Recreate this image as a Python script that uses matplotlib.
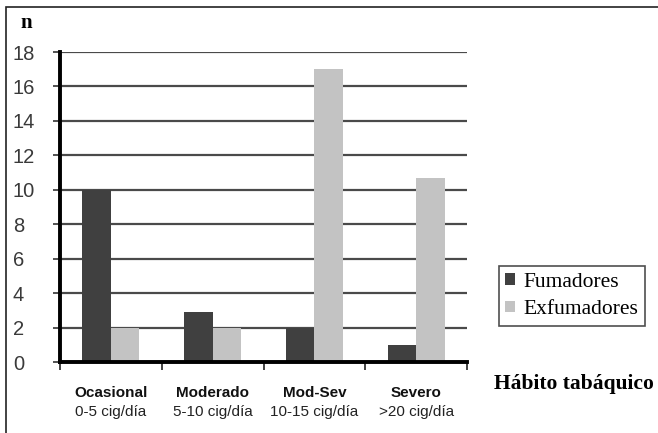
import numpy as np
import matplotlib.pyplot as plt
from matplotlib.patches import Rectangle

## Data

grupos = ['Ocasional', 'Moderado', 'Mod-Sev', 'Severo']
dosis = ['0-5 cig/día', '5-10 cig/día', '10-15 cig/día', '>20 cig/día']
fumadores = [10, 2.9, 2, 1]
exfumadores = [2, 2, 17, 10.7]

## Figure

fig = plt.figure(figsize=(6.58, 4.33), dpi=100)
fig.patches.append(Rectangle((6/658, -0.1), 2, 1.1 - 7/433, transform=fig.transFigure,
                             fill=False, edgecolor='#222222', lw=1.2))

ax = fig.add_axes([60/658, 1 - 362/433, 407/658, 310/433])

x = np.arange(len(grupos))
w = 0.28
ax.bar(x - w/2, fumadores, w, color='#404040', label='Fumadores', zorder=3)
ax.bar(x + w/2, exfumadores, w, color='#c3c3c3', label='Exfumadores', zorder=3)

ax.set_xlim(-0.5, len(grupos) - 0.5)
ax.set_ylim(0, 18)
ax.set_yticks(range(0, 19, 2))
ax.yaxis.grid(True, color='#4a4a4a', lw=1.6, zorder=1)
ax.set_axisbelow(True)

for s in ['top', 'right']:
    ax.spines[s].set_visible(False)
for s in ['left', 'bottom']:
    ax.spines[s].set_linewidth(2.8)
    ax.spines[s].set_color('black')
    ax.spines[s].set_zorder(4)

ax.tick_params(axis='y', direction='out', length=5, width=1.2, color='#333333',
               labelsize=14.5, labelcolor='#3a3a3a', pad=29)
for t in ax.get_yticklabels():
    t.set_fontfamily('Liberation Sans')
    t.set_horizontalalignment('left')

ax.set_xticks(np.arange(-0.5, len(grupos), 1))
ax.set_xticklabels([])
ax.tick_params(axis='x', direction='out', length=6, width=1.2, color='#222222')

for i, (g, d) in enumerate(zip(grupos, dosis)):
    ax.text(i, -1.8, g, ha='center', va='center', fontsize=11, fontweight='bold',
            family='Liberation Sans', color='#111111')
    ax.text(i, -2.9, d, ha='center', va='center', fontsize=11,
            family='Liberation Sans', color='#222222')

fig.text(20/658, 1 - 23/433, 'n', fontsize=15, fontweight='bold', family='Liberation Serif',
         ha='left', va='center')
fig.text(574/658, 1 - 384/433, 'Hábito tabáquico', fontsize=15.5, fontweight='bold',
         family='Liberation Serif', ha='center', va='center')

leg = ax.legend(loc='center', bbox_to_anchor=(572/658, 1 - 296/433),
                bbox_transform=fig.transFigure, frameon=True, fancybox=False,
                prop={'family': 'Liberation Serif', 'size': 15.5},
                handlelength=0.45, handleheight=0.45, handletextpad=0.4,
                borderpad=0.3, labelspacing=0.4, borderaxespad=0)
leg.get_frame().set_edgecolor('#222222')
leg.get_frame().set_linewidth(1.2)

fig.savefig('out.png', dpi=100)
